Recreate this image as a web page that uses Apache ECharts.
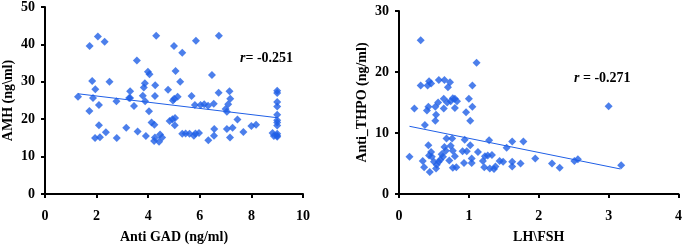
<!DOCTYPE html>
<html>
<head>
<meta charset="utf-8">
<script src="https://cdn.jsdelivr.net/npm/echarts@6/dist/echarts.min.js"></script>
<style>
  html, body { margin: 0; padding: 0; background: #fff; }
  #chart { width: 685px; height: 249px; }
</style>
</head>
<body>
<div id="chart"></div>
<script>
// left panel: Anti GAD vs AMH
const gadX = [1.28, 1.73, 2.05, 2.31, 1.83, 1.95, 1.86, 1.72, 2.09, 2.09, 1.94, 2.13, 2.36, 2.5, 2.77, 2.78,
  3.15, 3.26, 3.3, 3.3, 3.45, 3.56, 3.59, 3.79, 3.83, 3.87, 3.88, 3.91, 3.99, 4.05, 4.03, 4.13, 4.24, 4.27,
  4.26, 4.31, 4.23, 4.26, 4.42, 4.46, 4.54, 4.77, 4.83, 4.94, 5.0, 5.06, 4.96, 5.01, 5.03, 5.04, 5.14, 5.24,
  5.32, 5.32, 5.45, 5.6, 5.68, 5.81, 5.77, 5.85, 5.83, 5.97, 6.03, 6.17, 6.32, 6.33, 6.47, 6.54, 6.56, 6.55,
  6.74, 6.73, 7.0, 7.05, 7.15, 7.1, 7.18, 7.05, 7.17, 7.27, 7.46, 7.69, 8.0, 8.18, 8.82, 8.87,
  9, 9, 9, 9, 9, 9, 9, 9, 9, 9, 9];
const amhY = [26.0, 39.6, 42.1, 40.7, 30.2, 28.0, 25.7, 22.2, 23.8, 18.4, 15.0, 15.2, 16.5, 30.0, 24.8, 15.0,
  17.7, 25.7, 27.5, 25.7, 23.5, 35.7, 16.7, 26.3, 28.5, 29.6, 24.8, 15.5, 32.7, 32.0, 22.1, 19.1, 18.5, 29.1,
  26.2, 42.3, 14.2, 15.1, 14.0, 15.9, 15.1, 27.9, 19.5, 20.0, 39.6, 32.9, 25.0, 25.5, 18.4, 20.3, 26.0, 30.0,
  37.8, 16.1, 16.2, 16.1, 26.2, 23.8, 15.6, 41.0, 16.2, 16.3, 23.8, 24.0, 23.6, 14.4, 31.8, 24.1, 17.4, 15.6,
  42.3, 27.1, 22.7, 22.0, 27.5, 24.0, 25.5, 17.4, 15.1, 17.7, 19.9, 16.6, 18.2, 18.5, 16.3, 15.5,
  27.6, 27.0, 24.6, 23.4, 21.2, 19.7, 19.1, 18.3, 16.1, 15.6, 15.3];
const gadFitX = [1.28, 9.0];
const gadFitY = [26.8, 20.4];

// right panel: LH\FSH vs Anti_THPO
const lhX = [0.15, 0.31, 0.22, 0.31, 0.37, 0.34, 0.36, 0.40, 0.42, 0.43, 0.41, 0.46, 0.42, 0.44, 0.43, 0.46,
  0.47, 0.50, 0.52, 0.53, 0.52, 0.54, 0.53, 0.56, 0.57, 0.57, 0.59, 0.61, 0.63, 0.64, 0.64, 0.65, 0.65, 0.67,
  0.68, 0.69, 0.70, 0.73, 0.72, 0.74, 0.74, 0.76, 0.77, 0.77, 0.77, 0.80, 0.80, 0.80, 0.82, 0.83, 0.91, 0.93,
  0.94, 0.96, 0.97, 1.0, 1.02, 1.02, 1.04, 1.04, 1.05, 1.05, 1.11, 1.13, 1.2, 1.22, 1.23, 1.27, 1.29, 1.30,
  1.33, 1.36, 1.38, 1.44, 1.49, 1.54, 1.62, 1.62, 1.62, 1.74, 1.78, 1.95, 2.19, 2.30, 2.51, 2.56, 3.0, 3.18];
const thpoY = [6.1, 25.2, 14.0, 17.8, 11.3, 5.4, 4.4, 13.7, 14.3, 18.5, 17.8, 18.1, 8.0, 3.6, 6.3, 6.9,
  6.1, 5.3, 14.3, 13.0, 12.0, 4.8, 4.2, 15.0, 18.7, 5.3, 5.6, 6.5, 6.1, 14.0, 15.6, 18.7, 7.7, 7.1,
  9.1, 15.0, 17.5, 18.3, 5.5, 7.9, 15.2, 9.1, 15.7, 7.1, 4.3, 6.2, 15.6, 14.1, 4.4, 15.2, 7.0, 5.1,
  8.9, 13.4, 7.0, 15.6, 8.0, 12.0, 5.8, 5.1, 17.8, 14.3, 21.5, 6.9, 5.4, 4.4, 6.2, 6.3, 8.8, 4.2,
  6.4, 4.1, 4.5, 5.4, 5.3, 7.6, 8.6, 5.3, 4.5, 5.0, 8.6, 5.8, 5.0, 4.3, 5.4, 5.7, 14.4, 4.7];
const lhFitX = [0.15, 3.17];
const lhFitY = [11.1, 4.1];

const BLUE = '#1f5fe6';
const FONT = "'Liberation Serif', 'Times New Roman', serif";

const zip = (xs, ys) => xs.map((x, i) => [x, ys[i]]);

const axisCommon = {
  axisLine: { show: true, onZero: false, lineStyle: { color: '#000', width: 2 } },
  axisTick: { show: true, length: 4, lineStyle: { color: '#000', width: 2 } },
  axisLabel: { color: '#000', fontFamily: FONT, fontWeight: 'bold', fontSize: 14 },
  splitLine: { show: false },
  nameLocation: 'middle',
  nameTextStyle: { color: '#000', fontFamily: FONT, fontWeight: 'bold', fontSize: 14 }
}

const chart = echarts.init(document.getElementById('chart'), null, { renderer: 'canvas' });

const option = {
  animation: false,
  grid: [
    { left: 43, top: 5, width: 260, height: 196 },
    { left: 399, top: 11, width: 283, height: 190 }
  ],
  xAxis: [
    Object.assign({}, axisCommon, {
      gridIndex: 0, type: 'value', min: 0, max: 10, interval: 2,
      name: 'Anti GAD (ng/ml)', nameGap: 36,
      axisLabel: Object.assign({}, axisCommon.axisLabel, { margin: 15 })
    }),
    Object.assign({}, axisCommon, {
      gridIndex: 1, type: 'value', min: 0, max: 4, interval: 1,
      name: 'LH\\FSH', nameGap: 36,
      axisLabel: Object.assign({}, axisCommon.axisLabel, { margin: 15 })
    })
  ],
  yAxis: [
    Object.assign({}, axisCommon, {
      gridIndex: 0, type: 'value', min: 0, max: 50, interval: 10,
      name: 'AMH (ng\\ml)', nameGap: 30,
      axisLabel: Object.assign({}, axisCommon.axisLabel, { margin: 10 })
    }),
    Object.assign({}, axisCommon, {
      gridIndex: 1, type: 'value', min: 0, max: 30, interval: 10,
      name: 'Anti_THPO (ng/ml)', nameGap: 30,
      axisLabel: Object.assign({}, axisCommon.axisLabel, { margin: 10 })
    })
  ],
  series: [
    {
      type: 'scatter', xAxisIndex: 0, yAxisIndex: 0,
      symbol: 'diamond', symbolSize: 8,
      itemStyle: { color: BLUE },
      data: zip(gadX, amhY)
    },
    {
      type: 'line', xAxisIndex: 0, yAxisIndex: 0,
      symbol: 'none', lineStyle: { color: BLUE, width: 1 },
      data: zip(gadFitX, gadFitY)
    },
    {
      type: 'scatter', xAxisIndex: 1, yAxisIndex: 1,
      symbol: 'diamond', symbolSize: 8,
      itemStyle: { color: BLUE },
      data: zip(lhX, thpoY)
    },
    {
      type: 'line', xAxisIndex: 1, yAxisIndex: 1,
      symbol: 'none', lineStyle: { color: BLUE, width: 1 },
      data: zip(lhFitX, lhFitY)
    }
  ],
  graphic: [
    {
      type: 'text', left: 240, top: 51,
      style: {
        text: '{i|r}= -0.251',
        font: "bold 14px " + FONT, fill: '#000',
        rich: { i: { fontStyle: 'italic', fontWeight: 'bold', fontSize: 14, fontFamily: FONT } }
      }
    },
    {
      type: 'text', left: 574, top: 71,
      style: {
        text: '{i|r} = -0.271',
        font: "bold 14px " + FONT, fill: '#000',
        rich: { i: { fontStyle: 'italic', fontWeight: 'bold', fontSize: 14, fontFamily: FONT } }
      }
    }
  ]
};

chart.setOption(option);
</script>
</body>
</html>
